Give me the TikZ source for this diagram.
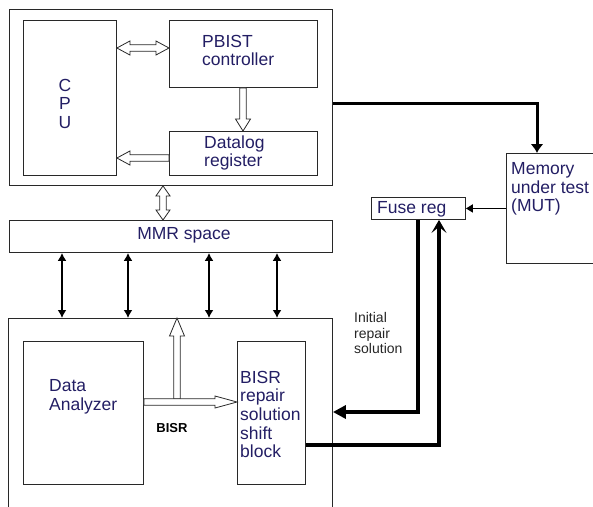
\documentclass[tikz,border=0pt]{standalone}
\usepackage{fontspec}
\setmainfont{Liberation Sans}
\usetikzlibrary{arrows.meta,calc}
\definecolor{txt}{RGB}{35,30,100}
\definecolor{edge}{RGB}{40,40,40}
\begin{document}
\begin{tikzpicture}[x=1pt,y=-1pt,
  box/.style={draw=edge, line width=0.9pt, anchor=north west, inner sep=0pt},
  lbl/.style={text=txt, font=\fontsize{17.5}{18.7}\selectfont, inner sep=0pt, align=left, anchor=west},
  note/.style={text=black!85, font=\fontsize{14}{15.5}\selectfont, inner sep=0pt, align=left, anchor=west},
  hollow/.style={draw=edge, fill=white, line width=0.8pt, line join=miter},
  % single hollow arrow: #1 head length, #2 head half width
  harrow/.style n args={2}{hollow, to path={
    ($(\tikztostart)!3.2pt!90:(\tikztotarget)$) --
    ($($(\tikztotarget)!#1!(\tikztostart)$)!3.2pt!90:(\tikztotarget)$) --
    ($($(\tikztotarget)!#1!(\tikztostart)$)!#2!90:(\tikztotarget)$) --
    (\tikztotarget) --
    ($($(\tikztotarget)!#1!(\tikztostart)$)!#2!-90:(\tikztotarget)$) --
    ($($(\tikztotarget)!#1!(\tikztostart)$)!3.2pt!-90:(\tikztotarget)$) --
    ($(\tikztostart)!3.2pt!-90:(\tikztotarget)$) -- cycle}},
  % double hollow arrow
  hdarrow/.style n args={2}{hollow, to path={
    (\tikztostart) --
    ($($(\tikztostart)!#1!(\tikztotarget)$)!#2!90:(\tikztotarget)$) --
    ($($(\tikztostart)!#1!(\tikztotarget)$)!3.2pt!90:(\tikztotarget)$) --
    ($($(\tikztotarget)!#1!(\tikztostart)$)!3.2pt!90:(\tikztotarget)$) --
    ($($(\tikztotarget)!#1!(\tikztostart)$)!#2!90:(\tikztotarget)$) --
    (\tikztotarget) --
    ($($(\tikztotarget)!#1!(\tikztostart)$)!#2!-90:(\tikztotarget)$) --
    ($($(\tikztotarget)!#1!(\tikztostart)$)!3.2pt!-90:(\tikztotarget)$) --
    ($($(\tikztostart)!#1!(\tikztotarget)$)!3.2pt!-90:(\tikztotarget)$) --
    ($($(\tikztostart)!#1!(\tikztotarget)$)!#2!-90:(\tikztotarget)$) -- cycle}},
  bus/.style={line width=2.4pt, {Latex[length=8pt,width=9pt]}-{Latex[length=8pt,width=9pt]}},
  thick3/.style={line width=3pt},
  thick4/.style={line width=4.3pt}
]
\useasboundingbox (0,0) rectangle (593,506);
\clip (0,0) rectangle (593,506);

% boxes
\node[box, minimum width=323pt, minimum height=176pt] (top) at (9,9) {};
\node[box, minimum width=93pt, minimum height=155pt] (cpu) at (23,20) {};
\node[box, minimum width=148pt, minimum height=67pt] (pbist) at (169,20) {};
\node[box, minimum width=148pt, minimum height=44pt] (datalog) at (169,131) {};
\node[box, minimum width=323pt, minimum height=32pt] (mmr) at (9,220) {};
\node[box, minimum width=324pt, minimum height=215pt] (bottom) at (8,318) {};
\node[box, minimum width=120pt, minimum height=143pt] (da) at (23,341) {};
\node[box, minimum width=68pt, minimum height=143pt] (bisr) at (237,341) {};
\node[box, minimum width=94pt, minimum height=22pt] (fuse) at (371,197) {};
\node[box, minimum width=100pt, minimum height=110pt] (mut) at (506,153) {};

% texts
\node[lbl, align=center, anchor=center, font=\fontsize{17.5}{18.5}\selectfont] (cputxt) at (65,103.5) {C\\P\\U};
\node[lbl] (pbisttxt) at (202,50.6) {PBIST\\controller};
\node[lbl] (datalogtxt) at (204,153) {Datalog\\register};
\node[lbl, anchor=center] (mmrtxt) at (184,235) {MMR space};
\node[lbl] (datxt) at (49,397) {Data\\Analyzer};
\node[lbl] (bisrtxt) at (240,414.5) {BISR\\repair\\solution\\shift\\block};
\node[lbl] (fusetxt) at (377,209) {Fuse reg};
\node[lbl] (muttxt) at (511,189) {Memory\\under test\\(MUT)};
\node[note] (inittxt) at (354,333) {Initial\\repair\\solution};
\node[text=black, font=\fontsize{13}{15}\bfseries, inner sep=0pt] (bisrlbl) at (172,428) {BISR};

% connector end points
\coordinate (cpuA) at (cpu.east |- 0,48);
\coordinate (pbA) at (pbist.west |- 0,48);
\coordinate (pbS) at (pbist.south -| 243,0);
\coordinate (dlN) at (datalog.north -| 243,0);
\coordinate (dlW) at (datalog.west |- 0,158);
\coordinate (cpuB) at (cpu.east |- 0,158);
\coordinate (topS) at (top.south -| 163,0);
\coordinate (mmrN) at (mmr.north -| 163,0);
\coordinate (junc) at (177,399);
\coordinate (botN) at (bottom.north -| 177,0);
\coordinate (daE) at (da.east |- 0,402);
\coordinate (bisrW) at (bisr.west |- 0,402);

% hollow arrows
\draw[hdarrow={13pt}{7pt}] (cpuA) to (pbA);
\draw[harrow={12pt}{7.5pt}] (pbS) to (dlN);
\draw[harrow={13pt}{7pt}] (dlW) to (cpuB);
\draw[hdarrow={10pt}{7pt}] (topS) to (mmrN);
\draw[harrow={18pt}{7.5pt}] (junc) to (botN);
\draw[harrow={22pt}{6pt}] (daE) to (bisrW);

% buses
\foreach \xx in {62,128,209,277}
  \draw[bus] (mmr.south -| \xx,0) -- (bottom.north -| \xx,0);

% thick connectors
\draw[thick3, -{Latex[length=9pt,width=13pt]}] (top.east |- 0,103) -| (mut.north -| 537,0);
\draw[line width=1.6pt, -{Triangle[length=7pt,width=8pt]}] (mut.west |- fuse.east) -- (fuse.east);
\draw[thick4, -{Triangle[length=13pt,width=13pt]}] (fuse.south -| 418,0) |- (bottom.east |- 0,412);
\draw[line width=3.8pt, -{Stealth[length=13pt,width=15pt,inset=6pt]}] (bisr.east |- 0,445) -| (fuse.south -| 439,0);
\end{tikzpicture}
\end{document}
